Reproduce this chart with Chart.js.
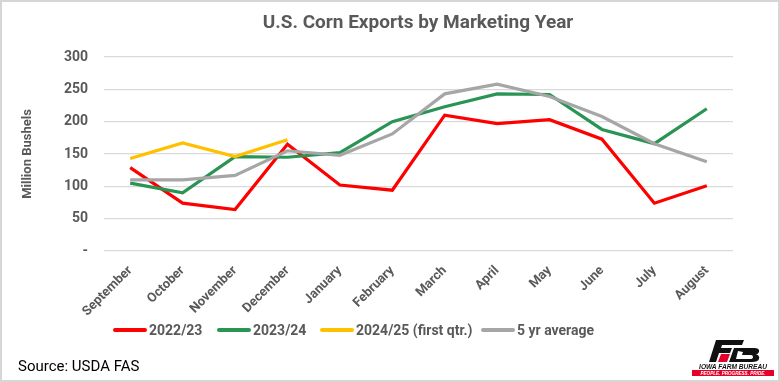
<!DOCTYPE html>
<html>
<head>
<meta charset="utf-8">
<script src="https://cdn.jsdelivr.net/npm/chart.js@4/dist/chart.umd.min.js"></script>
<style>
    html, body { margin: 0; padding: 0; background: #fff; }
    #wrap {
        position: relative;
        width: 780px;
        height: 382px;
        box-sizing: border-box;
        border: 2px solid #d6d6d6;
        font-family: "Roboto", sans-serif;
        color: #595959;
        overflow: hidden;
    }
    #chart { position: absolute; left: -2px; top: -2px; }
    #title {
        position: absolute; left: 0; width: 832px; top: 8px;
        text-align: center; font-size: 19px; font-weight: bold; color: #595959;
    }
    #legend { position: absolute; top: 320px; left: 111px; font-size: 14px; font-weight: bold; }
    .item { position: absolute; white-space: nowrap; display: flex; align-items: center; }
    .swatch { display: inline-block; width: 34px; height: 4px; border-radius: 2px; margin-right: 2px; }
    #source { position: absolute; left: 16px; top: 355px; font-size: 15px; color: #000; }
    #logo { position: absolute; left: 688px; top: 336px; width: 86px; height: 40px; }
</style>
</head>
<body>
<div id="wrap">
    <canvas id="chart" width="780" height="382"></canvas>
    <div id="title">U.S. Corn Exports by Marketing Year</div>
    <div id="legend"></div>
    <div id="source">Source: USDA FAS</div>
    <svg id="logo" viewBox="0 0 86 40">
        <polygon points="26,2 54,2 52,7 32,7 31,10 42,10 40,15 29,15 26,24 19,24" fill="#111"/>
        <polygon points="31,16 40,16 37,24 28,24" fill="#e4002b"/>
        <path d="M44,10 L64,10 Q70,10 69,14 Q68,16 66,16.5 Q70,17 69,21 Q68,24 62,24 L39,24 Z M48,13 L46,21 L60,21 Q63,21 63,19 Q63,17 61,17 L52,17 L53,14 Z" fill="#111" fill-rule="evenodd"/>
        <text x="43" y="30.5" text-anchor="middle" font-family="Liberation Sans, sans-serif" font-weight="bold" font-style="italic" font-size="6.6" fill="#111">IOWA FARM BUREAU</text>
        <rect x="2" y="32" width="82" height="6" fill="#e4002b"/>
        <text x="43" y="36.8" text-anchor="middle" font-family="Liberation Sans, sans-serif" font-weight="bold" font-style="italic" font-size="4.6" fill="#fff">PEOPLE. PROGRESS. PRIDE.</text>
    </svg>
</div>
<script>
// Monthly corn exports, million bushels
const months = ['September', 'October', 'November', 'December', 'January', 'February',
    'March', 'April', 'May', 'June', 'July', 'August'];

const my2022 = [129, 74, 64, 165, 102, 94, 210, 197, 203, 173, 74, 101];
const my2023 = [105, 90, 146, 145, 152, 200, 223, 243, 242, 188, 166, 220];
const my2024 = [143, 167, 146, 172, null, null, null, null, null, null, null, null];
const avg5yr = [110, 110, 117, 155, 148, 181, 243, 258, 239, 208, 166, 138];

const yTicks = [0, 50, 100, 150, 200, 250, 300];

const seriesNames = ['2022/23', '2023/24', '2024/25 (first qtr.)', '5 yr average'];
const seriesColors = ['#ff0000', '#2a9455', '#ffc000', '#a6a6a6'];
const legendLeft = [0, 104, 207, 368];

const textGray = '#595959';
const fontFamily = '"Roboto", sans-serif';

function buildDatasets() {
    const values = [my2022, my2023, my2024, avg5yr];
    return values.map((data, i) => ({
        label: seriesNames[i],
        data: data,
        borderColor: seriesColors[i],
        backgroundColor: seriesColors[i],
        borderWidth: 3.2,
        pointRadius: 0,
        tension: 0,
        spanGaps: false,
        // Excel draws later series on top
        order: values.length - i
    }));
}

function buildLegend() {
    const legend = document.getElementById('legend');
    seriesNames.forEach((name, i) => {
        const item = document.createElement('div');
        item.className = 'item';
        item.style.left = legendLeft[i] + 'px';
        item.innerHTML = `<span class="swatch" style="background:${seriesColors[i]}"></span>${name}`;
        legend.appendChild(item);
    });
}

const chart = new Chart(document.getElementById('chart'), {
    type: 'line',
    data: {
        labels: months,
        datasets: buildDatasets()
    },
    options: {
        responsive: false,
        animation: false,
        layout: {
            padding: { left: 20, right: 47, top: 57, bottom: 58 }
        },
        plugins: {
            legend: { display: false },
            tooltip: { enabled: false }
        },
        scales: {
            x: {
                offset: true,
                grid: { display: false },
                border: { display: false },
                ticks: {
                    color: textGray,
                    font: { family: fontFamily, size: 13, weight: 'bold' },
                    minRotation: 45,
                    maxRotation: 45,
                    padding: 4
                },
                afterFit: (scale) => { scale.height = 73; }
            },
            y: {
                min: 0,
                max: 300,
                afterBuildTicks: (scale) => {
                    scale.ticks = yTicks.map(v => ({ value: v }));
                },
                grid: { color: '#d9d9d9', lineWidth: 1.3, drawTicks: false },
                border: { display: false },
                ticks: {
                    color: textGray,
                    font: { family: fontFamily, size: 14, weight: 'bold' },
                    padding: 16,
                    callback: (v) => v === 0 ? '-' : v
                },
                title: {
                    display: true,
                    text: 'Million Bushels',
                    color: textGray,
                    font: { family: fontFamily, size: 13, weight: 'bold' },
                    padding: 0
                },
                afterFit: (scale) => { scale.width = 84; }
            }
        }
    }
});

buildLegend();
</script>
</body>
</html>
